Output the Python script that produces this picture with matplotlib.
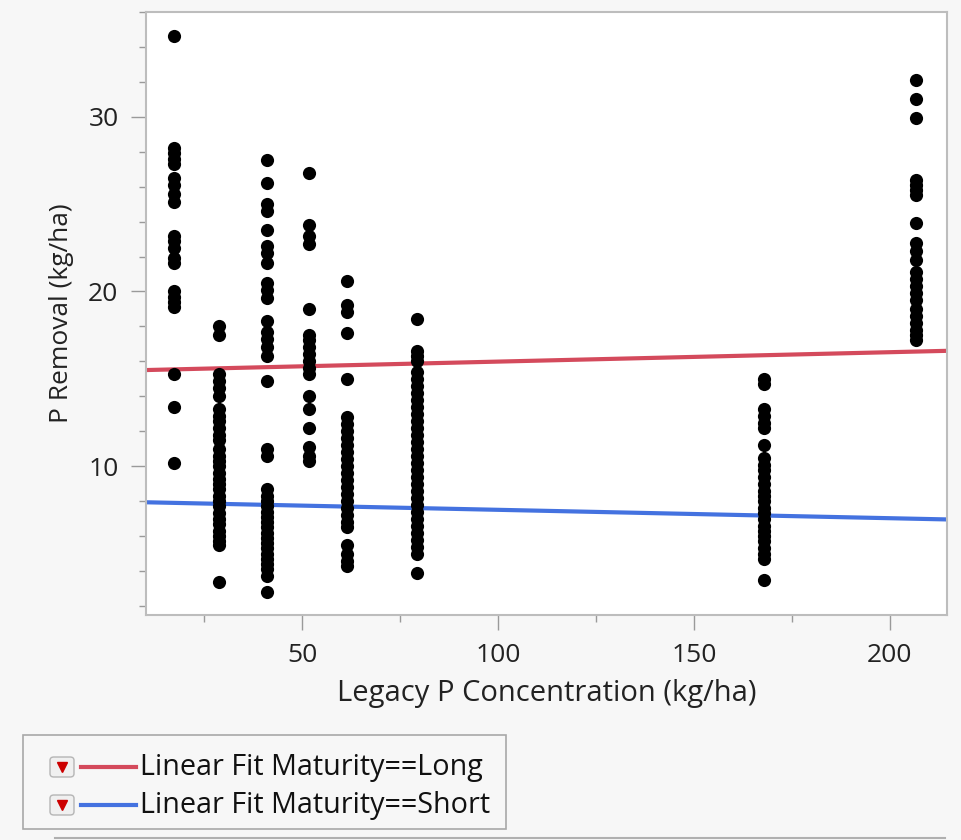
import matplotlib.pyplot as plt
from matplotlib.patches import Rectangle, FancyBboxPatch
from matplotlib.lines import Line2D
from matplotlib.ticker import MultipleLocator
import numpy as np

plt.rcParams['font.family'] = ['Open Sans', 'DejaVu Sans']

# legacy P levels (kg/ha) and the P removal values
legacy_p = [17.3, 28.8, 41.0, 51.8, 61.5, 79.3, 167.9, 206.6]

removal = [
    [34.6, 28.2, 27.9, 27.6, 27.3, 26.5, 26.1, 25.6, 25.1, 23.2, 22.9, 22.5,
     21.9, 21.6, 20.0, 19.7, 19.4, 19.1, 15.3, 13.4, 10.2],
    [18.0, 17.5, 15.3, 14.9, 14.5, 14.0, 13.3, 12.9, 12.6, 12.2, 11.8, 11.5,
     11.0, 10.6, 10.3, 10.0, 9.6, 9.3, 9.0, 8.7, 8.3, 8.0, 7.7, 7.3, 7.0,
     6.7, 6.3, 6.0, 5.7, 5.5, 3.4],
    [27.5, 26.2, 25.0, 24.6, 23.5, 22.6, 22.2, 21.6, 20.5, 20.1, 19.6, 18.3,
     17.7, 17.3, 16.8, 16.3, 14.9, 11.0, 10.6, 8.7, 8.3, 8.0, 7.7, 7.4, 7.1,
     6.8, 6.5, 6.2, 5.9, 5.6, 5.3, 5.0, 4.7, 4.4, 4.1, 3.7, 2.8],
    [26.8, 23.8, 23.2, 22.7, 19.0, 17.5, 17.2, 16.8, 16.4, 16.0, 15.6, 15.3,
     14.0, 13.3, 12.2, 11.1, 10.6, 10.3],
    [20.6, 19.2, 18.8, 17.6, 15.0, 12.8, 12.4, 12.0, 11.6, 11.2, 10.8, 10.4,
     10.0, 9.6, 9.2, 8.8, 8.4, 8.0, 7.6, 7.2, 6.8, 6.5, 5.5, 5.0, 4.6, 4.3],
    [18.4, 16.6, 16.3, 16.0, 15.4, 15.0, 14.6, 14.2, 13.8, 13.4, 13.0, 12.6,
     12.2, 11.8, 11.4, 11.0, 10.6, 10.2, 9.8, 9.4, 9.0, 8.6, 8.2, 7.8, 7.4,
     7.0, 6.6, 6.2, 5.8, 5.4, 5.0, 3.9],
    [15.0, 14.7, 13.3, 12.9, 12.5, 12.2, 11.2, 10.5, 10.1, 9.8, 9.4, 9.0,
     8.6, 8.3, 8.0, 7.6, 7.3, 7.0, 6.6, 6.3, 6.0, 5.7, 5.3, 5.0, 4.7, 3.5],
    [32.1, 31.0, 29.9, 26.4, 26.1, 25.8, 25.5, 23.9, 22.8, 22.3, 21.8, 21.1,
     20.7, 20.3, 19.9, 19.5, 19.0, 18.6, 18.2, 17.8, 17.5, 17.2],
]

# linear fits by maturity group
fit_labels = ['Linear Fit Maturity==Long', 'Linear Fit Maturity==Short']
fit_intercept = [15.45, 7.99]
fit_slope = [0.00538, -0.0048]
fit_colors = ['#d44a5c', '#4472e0']

bg = '#f7f7f7'
fig = plt.figure(figsize=(9.62, 8.4), dpi=100, facecolor=bg)
ax = fig.add_axes([0.152, 0.268, 0.832, 0.718])
ax.set_facecolor('white')

xs, ys = [], []
for x, vals in zip(legacy_p, removal):
    xs += [x] * len(vals)
    ys += vals
ax.scatter(xs, ys, s=90, color='black', zorder=3, linewidths=0)

xlim = (10.2, 214.5)
xx = np.array(xlim)
for b0, b1, c in zip(fit_intercept, fit_slope, fit_colors):
    ax.plot(xx, b0 + b1 * xx, color=c, lw=3, zorder=2)

ax.set_xlim(*xlim)
ax.set_ylim(1.5, 36)
ax.xaxis.set_major_locator(MultipleLocator(50))
ax.xaxis.set_minor_locator(MultipleLocator(25))
ax.yaxis.set_major_locator(MultipleLocator(10))
ax.yaxis.set_minor_locator(MultipleLocator(2))
ax.tick_params(which='major', direction='out', length=11, width=1,
               color='#9a9a9a', labelsize=19, labelcolor='#222222', pad=9)
ax.tick_params(which='minor', direction='out', length=5, width=1,
               color='#9a9a9a')
for s in ax.spines.values():
    s.set_color('#bdbdbd')
    s.set_linewidth(1.5)

ax.set_xlabel('Legacy P Concentration (kg/ha)', fontsize=21,
              color='#222222', labelpad=8)
ax.set_ylabel('P Removal (kg/ha)', fontsize=19, color='#222222', labelpad=10)

# legend box drawn in figure pixels
W, H = 962, 840
def fx(px):
    return px / W
def fy(py):
    return 1 - py / H

fig.patches.append(Rectangle((fx(23), fy(829)), fx(483), 94 / H,
                             transform=fig.transFigure, facecolor=bg,
                             edgecolor='#a8a8a8', lw=1.2))
for i, (lab, c) in enumerate(zip(fit_labels, fit_colors)):
    yc = 767 + i * 38
    fig.patches.append(FancyBboxPatch((fx(50), fy(yc + 10)), 24 / W, 20 / H,
                                      boxstyle='round,pad=0,rounding_size=0.004',
                                      transform=fig.transFigure,
                                      facecolor='#f0f0f0', edgecolor='#b5b5b5',
                                      lw=1))
    fig.lines.append(Line2D([fx(62)], [fy(yc)], marker='v', markersize=7,
                            color='#cc0000', transform=fig.transFigure))
    fig.lines.append(Line2D([fx(81), fx(136)], [fy(yc), fy(yc)], color=c,
                            lw=3, transform=fig.transFigure))
    fig.text(fx(140), fy(yc), lab, fontsize=20.7, color='#111111',
             va='center', ha='left')

fig.lines.append(Line2D([fx(55), fx(945)], [fy(838), fy(838)],
                        color='#b0b0b0', lw=1.5, transform=fig.transFigure))

fig.savefig('out.png', dpi=100, facecolor=bg)
